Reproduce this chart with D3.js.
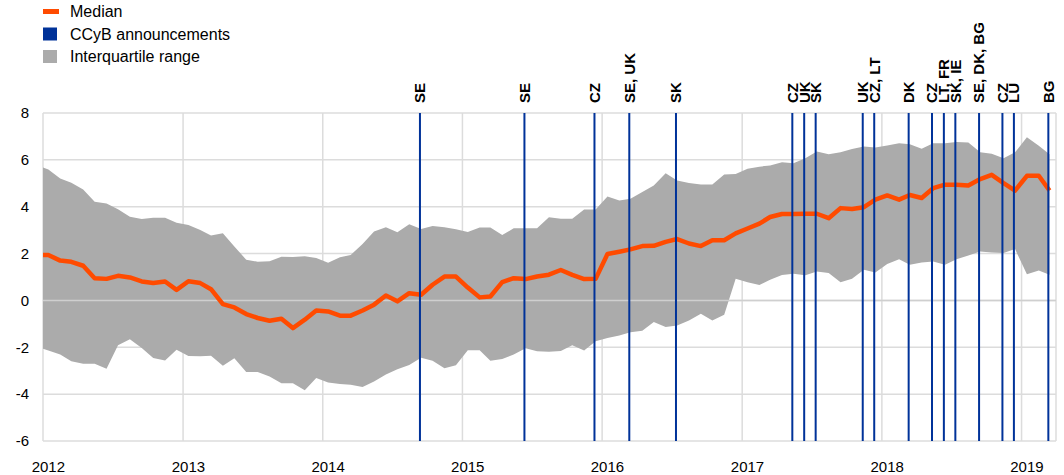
<!DOCTYPE html>
<html>
<head>
<meta charset="utf-8">
<script src="https://cdn.jsdelivr.net/npm/d3@7"></script>
<style>
  html, body { margin: 0; padding: 0; background: #fff; }
  svg { display: block; font-family: "Liberation Sans", Arial, sans-serif; }
</style>
</head>
<body>
<svg id="chart" width="1064" height="475"></svg>
<script>
// ---------- DATA ----------
// Monthly observations, first month = December 2011, last = March 2019
const firstMonth = "2011-12";
const medianValues = [
  1.94, 1.94, 1.70, 1.65, 1.48, 0.95, 0.92, 1.05, 0.98, 0.81, 0.74, 0.81, 0.45,
  0.82, 0.74, 0.48, -0.16, -0.30, -0.58, -0.75, -0.87, -0.78, -1.18, -0.82, -0.43,
  -0.47, -0.65, -0.65, -0.43, -0.18, 0.21, -0.04, 0.31, 0.24, 0.67, 1.02, 1.02,
  0.55, 0.13, 0.17, 0.78, 0.95, 0.91, 1.02, 1.10, 1.30, 1.09, 0.91, 0.92,
  1.98, 2.08, 2.18, 2.32, 2.33, 2.50, 2.62, 2.43, 2.32, 2.57, 2.57, 2.86, 3.07,
  3.28, 3.56, 3.69, 3.69, 3.70, 3.70, 3.51, 3.94, 3.90, 3.98, 4.30, 4.48,
  4.30, 4.50, 4.37, 4.79, 4.94, 4.94, 4.91, 5.18, 5.36, 5.01, 4.69, 5.32, 5.32, 4.69
];
const upperQuartile = [
  5.77, 5.59, 5.20, 5.02, 4.74, 4.21, 4.14, 3.89, 3.57, 3.48, 3.53, 3.53, 3.32,
  3.22, 3.01, 2.77, 2.87, 2.30, 1.74, 1.65, 1.67, 1.86, 1.85, 1.89, 1.81,
  1.61, 1.84, 1.94, 2.41, 2.94, 3.12, 2.91, 3.25, 3.05, 3.18, 3.12, 3.04,
  2.92, 3.11, 3.11, 2.79, 3.08, 3.08, 3.08, 3.55, 3.49, 3.49, 3.88, 3.88,
  4.44, 4.27, 4.34, 4.63, 4.91, 5.43, 5.12, 5.01, 4.95, 4.95, 5.37, 5.40, 5.62,
  5.71, 5.76, 5.90, 5.86, 6.07, 6.36, 6.24, 6.32, 6.46, 6.57, 6.53, 6.61,
  6.71, 6.67, 6.47, 6.71, 6.71, 6.76, 6.74, 6.32, 6.26, 6.07, 6.32, 6.96, 6.60, 6.24
];
const lowerQuartile = [
  -1.98, -2.14, -2.31, -2.60, -2.70, -2.70, -2.92, -1.91, -1.66, -2.03, -2.46, -2.56, -2.11,
  -2.37, -2.38, -2.36, -2.79, -2.47, -3.06, -3.06, -3.25, -3.53, -3.53, -3.83, -3.31,
  -3.50, -3.57, -3.60, -3.70, -3.46, -3.16, -2.94, -2.76, -2.45, -2.57, -2.89, -2.77,
  -2.13, -2.13, -2.57, -2.50, -2.31, -2.04, -2.17, -2.19, -2.16, -1.91, -2.14, -1.74,
  -1.60, -1.50, -1.36, -1.29, -0.92, -1.13, -1.07, -0.86, -0.57, -0.86, -0.61, 0.92, 0.78,
  0.66, 0.88, 1.09, 1.14, 1.07, 1.24, 1.17, 0.78, 0.92, 1.31, 1.19, 1.56,
  1.76, 1.52, 1.62, 1.66, 1.52, 1.76, 1.92, 2.09, 2.05, 2.02, 2.19, 1.12, 1.28, 1.10
];
// CCyB announcements (month, countries)
const announcementMonths = [
  "2014-09", "2015-06", "2015-12", "2016-03", "2016-07", "2017-05", "2017-06", "2017-07",
  "2017-11", "2017-12", "2018-03", "2018-05", "2018-06", "2018-07", "2018-09", "2018-11",
  "2018-12", "2019-03"
];
const announcementLabels = [
  "SE", "SE", "CZ", "SE, UK", "SK", "CZ", "UK", "SK",
  "UK", "CZ, LT", "DK", "CZ", "LT, FR", "SK, IE", "SE, DK, BG", "CZ",
  "LU", "BG"
];
const yTicks = [-6, -4, -2, 0, 2, 4, 6, 8];
const yearTicks = [2012, 2013, 2014, 2015, 2016, 2017, 2018, 2019];
const legendItems = ["Median", "CCyB announcements", "Interquartile range"];

// ---------- LAYOUT ----------
const margin = { left: 43, right: 1056, top: 113, bottom: 441 };
const colors = { median: "#FF4B00", ccyb: "#003299", iqr: "#ABABAB", grid: "#DCDCDC", zero: "#CFCFCF" };

const svg = d3.select("#chart");
const parseMonth = d3.timeParse("%Y-%m");
const start = parseMonth(firstMonth);
const months = d3.range(medianValues.length).map(i => d3.timeMonth.offset(start, i));
const midMonth = d => d3.timeDay.offset(d, 14);
const data = months.map((m, i) => ({ date: midMonth(m), med: medianValues[i], lo: lowerQuartile[i], hi: upperQuartile[i] }));

const x = d3.scaleTime()
  .domain([new Date(2012, 0, 1), new Date(2019, 3, 1)])
  .range([margin.left, margin.right]);
const y = d3.scaleLinear().domain([-6, 8]).range([margin.bottom, margin.top]);

svg.append("defs").append("clipPath").attr("id", "plotclip")
  .append("rect")
  .attr("x", margin.left).attr("y", margin.top - 5)
  .attr("width", margin.right - margin.left).attr("height", margin.bottom - margin.top + 10);

// Grid
const grid = svg.append("g");
grid.selectAll("line.h").data(yTicks).join("line")
  .attr("x1", margin.left).attr("x2", margin.right)
  .attr("y1", d => y(d)).attr("y2", d => y(d))
  .attr("stroke", colors.grid).attr("stroke-width", 1.5);
const yearLines = yearTicks.map(yr => new Date(yr, 0, 1)).concat([x.domain()[1]]);
grid.selectAll("line.v").data(yearLines).join("line")
  .attr("x1", d => x(d)).attr("x2", d => x(d))
  .attr("y1", margin.top).attr("y2", margin.bottom)
  .attr("stroke", colors.grid).attr("stroke-width", 1.5);

const plot = svg.append("g").attr("clip-path", "url(#plotclip)");

// Interquartile band
plot.append("path").datum(data)
  .attr("fill", colors.iqr)
  .attr("d", d3.area().x(d => x(d.date)).y0(d => y(d.lo)).y1(d => y(d.hi)));

// Zero line on top of band
plot.append("line")
  .attr("x1", margin.left).attr("x2", margin.right)
  .attr("y1", y(0)).attr("y2", y(0))
  .attr("stroke", colors.zero).attr("stroke-width", 1.5);

// CCyB announcement lines
const ann = announcementMonths.map((m, i) => ({ date: d3.timeDay.offset(parseMonth(m), 11), label: announcementLabels[i] }));
svg.append("g").selectAll("line").data(ann).join("line")
  .attr("x1", d => x(d.date)).attr("x2", d => x(d.date))
  .attr("y1", margin.top).attr("y2", margin.bottom)
  .attr("stroke", colors.ccyb).attr("stroke-width", 2);

// Median line
plot.append("path").datum(data)
  .attr("fill", "none")
  .attr("stroke", colors.median)
  .attr("stroke-width", 4.5)
  .attr("stroke-linejoin", "round")
  .attr("d", d3.line().x(d => x(d.date)).y(d => y(d.med)));

// Announcement labels (rotated)
svg.append("g").selectAll("text").data(ann).join("text")
  .attr("transform", d => `translate(${x(d.date)},103) rotate(-90)`)
  .attr("dy", "0.36em")
  .attr("font-size", 15).attr("font-weight", "bold").attr("fill", "#000")
  .text(d => d.label);

// Y axis labels
svg.append("g").selectAll("text").data(yTicks).join("text")
  .attr("x", 29).attr("y", d => y(d)).attr("dy", "0.35em")
  .attr("text-anchor", "end").attr("font-size", 15).attr("fill", "#000")
  .text(d => d);

// X axis labels (centred on mid-January)
svg.append("g").selectAll("text").data(yearTicks).join("text")
  .attr("x", d => x(new Date(d, 0, 15))).attr("y", 472)
  .attr("text-anchor", "middle").attr("font-size", 15).attr("fill", "#000")
  .text(d => d);

// Legend
const legend = svg.append("g");
const rowY = [11.5, 34, 56.5];
legend.append("rect").attr("x", 43).attr("y", rowY[0] - 2.5).attr("width", 16).attr("height", 5).attr("fill", colors.median);
legend.append("rect").attr("x", 43).attr("y", rowY[1] - 6.5).attr("width", 14).attr("height", 13).attr("fill", colors.ccyb);
legend.append("rect").attr("x", 43).attr("y", rowY[2] - 6.5).attr("width", 14).attr("height", 13).attr("fill", colors.iqr);
legend.selectAll("text").data(legendItems).join("text")
  .attr("x", 70).attr("y", (d, i) => rowY[i]).attr("dy", "0.35em")
  .attr("font-size", 16).attr("fill", "#000")
  .text(d => d);
</script>
</body>
</html>
